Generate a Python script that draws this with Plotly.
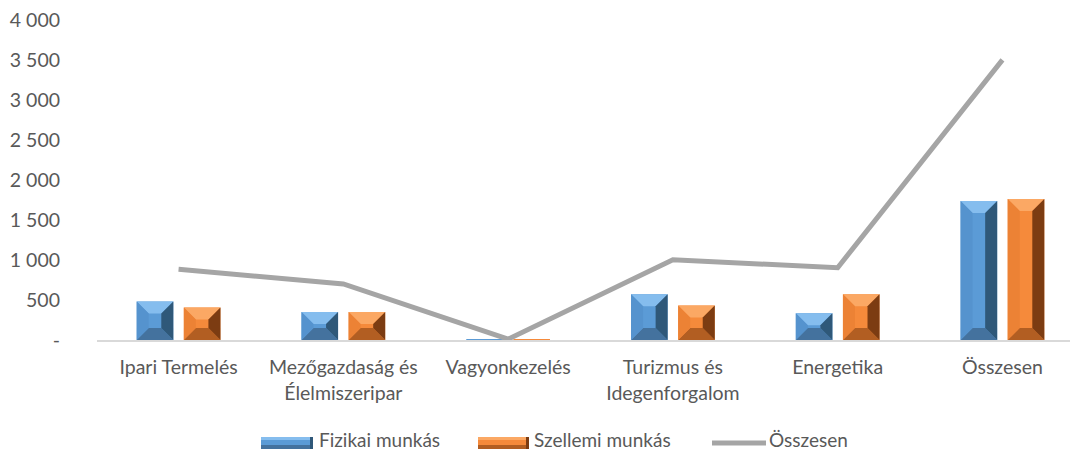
import plotly.graph_objects as go

categories = ["Ipari Termelés", "Mezőgazdaság és<br>Élelmiszeripar", "Vagyonkezelés",
              "Turizmus és<br>Idegenforgalom", "Energetika", "Összesen"]
fizikai = [480, 350, 3, 572, 333, 1738]
szellemi = [405, 350, 8, 430, 571, 1764]
osszesen = [885, 700, 11, 1002, 904, 3502]

tick_vals = [0, 500, 1000, 1500, 2000, 2500, 3000, 3500, 4000]
tick_text = ["-", "500", "1 000", "1 500", "2 000", "2 500", "3 000", "3 500", "4 000"]
series_names = ["Fizikai munkás", "Szellemi munkás", "Összesen"]

# layout geometry (pixels)
W, H = 1073, 452
PL, PR, PT, PB = 97, 1070, 20, 340
XR = [-0.495, 5.41]
YR = [0, 4000]
BAR_W = 0.222
OFFS = [-0.254, 0.032]

TXT = "#595959"
FONT = dict(family="Lato, 'Open Sans', sans-serif", size=19.5, color=TXT)
LEG_FONT = dict(family="Lato, 'Open Sans', sans-serif", size=19, color=TXT)

# colours: front, top, left, right, bottom
PAL = [
    dict(front="#5B9BD6", top="#85BDEE", left="#5593CE", right="#2F5879", bottom="#44729E"),
    dict(front="#F58A3B", top="#FBA864", left="#EC8235", right="#7C3C12", bottom="#B25E22"),
]
LINE_C = "#A5A5A5"

px_per_x = (PR - PL) / (XR[1] - XR[0])
px_per_y = (PB - PT) / (YR[1] - YR[0])

fig = go.Figure()
xs = list(range(len(categories)))

for s, (vals, name) in enumerate(zip([fizikai, szellemi], series_names[:2])):
    pal = PAL[s]
    fig.add_trace(go.Bar(x=xs, y=vals, name=name, width=BAR_W, offset=OFFS[s],
                         marker=dict(color=pal["front"], line=dict(width=0)),
                         showlegend=False))
    # bevel faces
    for i, v in enumerate(vals):
        x0 = i + OFFS[s]
        x1 = x0 + BAR_W
        h_px = v * px_per_y
        w_px = BAR_W * px_per_x
        b = min(12.0, h_px / 2, w_px / 2)
        bx = b / px_per_x
        by = b / px_per_y
        faces = {
            "top": ([x0, x1, x1 - bx, x0 + bx], [v, v, v - by, v - by]),
            "bottom": ([x0, x1, x1 - bx, x0 + bx], [0, 0, by, by]),
            "left": ([x0, x0 + bx, x0 + bx, x0], [0, by, v - by, v]),
            "right": ([x1, x1 - bx, x1 - bx, x1], [0, by, v - by, v]),
        }
        for face, (fx, fy) in faces.items():
            fig.add_trace(go.Scatter(x=fx + [fx[0]], y=fy + [fy[0]], mode="lines",
                                     fill="toself", fillcolor=pal[face],
                                     line=dict(width=0, color=pal[face]),
                                     hoverinfo="skip", showlegend=False))

fig.add_trace(go.Scatter(x=xs, y=osszesen, name=series_names[2], mode="lines",
                         line=dict(color=LINE_C, width=5), showlegend=False))

# custom legend (paper coordinates)
def px2paper_x(p):
    return (p - PL) / (PR - PL)

def px2paper_y(p):
    return (PB - p) / (PB - PT)

shapes = []
annotations = []
sym_y = 443
txt_y = 439
leg_items = [(261, 313, 318, 0), (478, 529, 533, 1)]
for sx0, sx1, tx, s in leg_items:
    pal = PAL[s]
    shapes.append(dict(type="rect", xref="paper", yref="paper",
                       x0=px2paper_x(sx0), x1=px2paper_x(sx1),
                       y0=px2paper_y(sym_y + 6), y1=px2paper_y(sym_y - 6),
                       fillcolor=pal["front"], line=dict(width=0)))
    shapes.append(dict(type="rect", xref="paper", yref="paper",
                       x0=px2paper_x(sx0), x1=px2paper_x(sx1),
                       y0=px2paper_y(sym_y - 3), y1=px2paper_y(sym_y - 6),
                       fillcolor=pal["top"], line=dict(width=0)))
    shapes.append(dict(type="rect", xref="paper", yref="paper",
                       x0=px2paper_x(sx0), x1=px2paper_x(sx1),
                       y0=px2paper_y(sym_y + 6), y1=px2paper_y(sym_y + 2),
                       fillcolor=pal["bottom"], line=dict(width=0)))
    shapes.append(dict(type="rect", xref="paper", yref="paper",
                       x0=px2paper_x(sx1 - 3), x1=px2paper_x(sx1),
                       y0=px2paper_y(sym_y + 6), y1=px2paper_y(sym_y - 6),
                       fillcolor=pal["right"], line=dict(width=0)))
    annotations.append(dict(text=series_names[s], xref="paper", yref="paper",
                            x=px2paper_x(tx), y=px2paper_y(txt_y), xanchor="left",
                            yanchor="middle", showarrow=False, font=LEG_FONT,
                            borderpad=0))
shapes.append(dict(type="line", xref="paper", yref="paper",
                   x0=px2paper_x(712), x1=px2paper_x(766),
                   y0=px2paper_y(sym_y), y1=px2paper_y(sym_y),
                   line=dict(color=LINE_C, width=5)))
annotations.append(dict(text=series_names[2], xref="paper", yref="paper",
                        x=px2paper_x(768), y=px2paper_y(txt_y), xanchor="left",
                        yanchor="middle", showarrow=False, font=LEG_FONT, borderpad=0))

fig.update_layout(
    width=W, height=H,
    margin=dict(l=PL, r=W - PR, t=PT, b=H - PB, autoexpand=False),
    paper_bgcolor="white", plot_bgcolor="white",
    font=FONT, showlegend=False,
    shapes=shapes, annotations=annotations,
    xaxis=dict(range=XR, tickvals=xs, ticktext=categories, showgrid=False,
               showline=True, linecolor="#D9D9D9", linewidth=1.5, ticks="",
               tickfont=FONT, zeroline=False, ticklabelstandoff=9),
    yaxis=dict(range=YR, tickvals=tick_vals, ticktext=tick_text,
               showgrid=False, zeroline=False, showline=False, ticks="",
               ticklabelstandoff=36, tickfont=FONT),
)
fig.write_html("out.html", config={"displayModeBar": False},
               post_script="document.body.style.margin='0';document.body.style.overflow='hidden';")
